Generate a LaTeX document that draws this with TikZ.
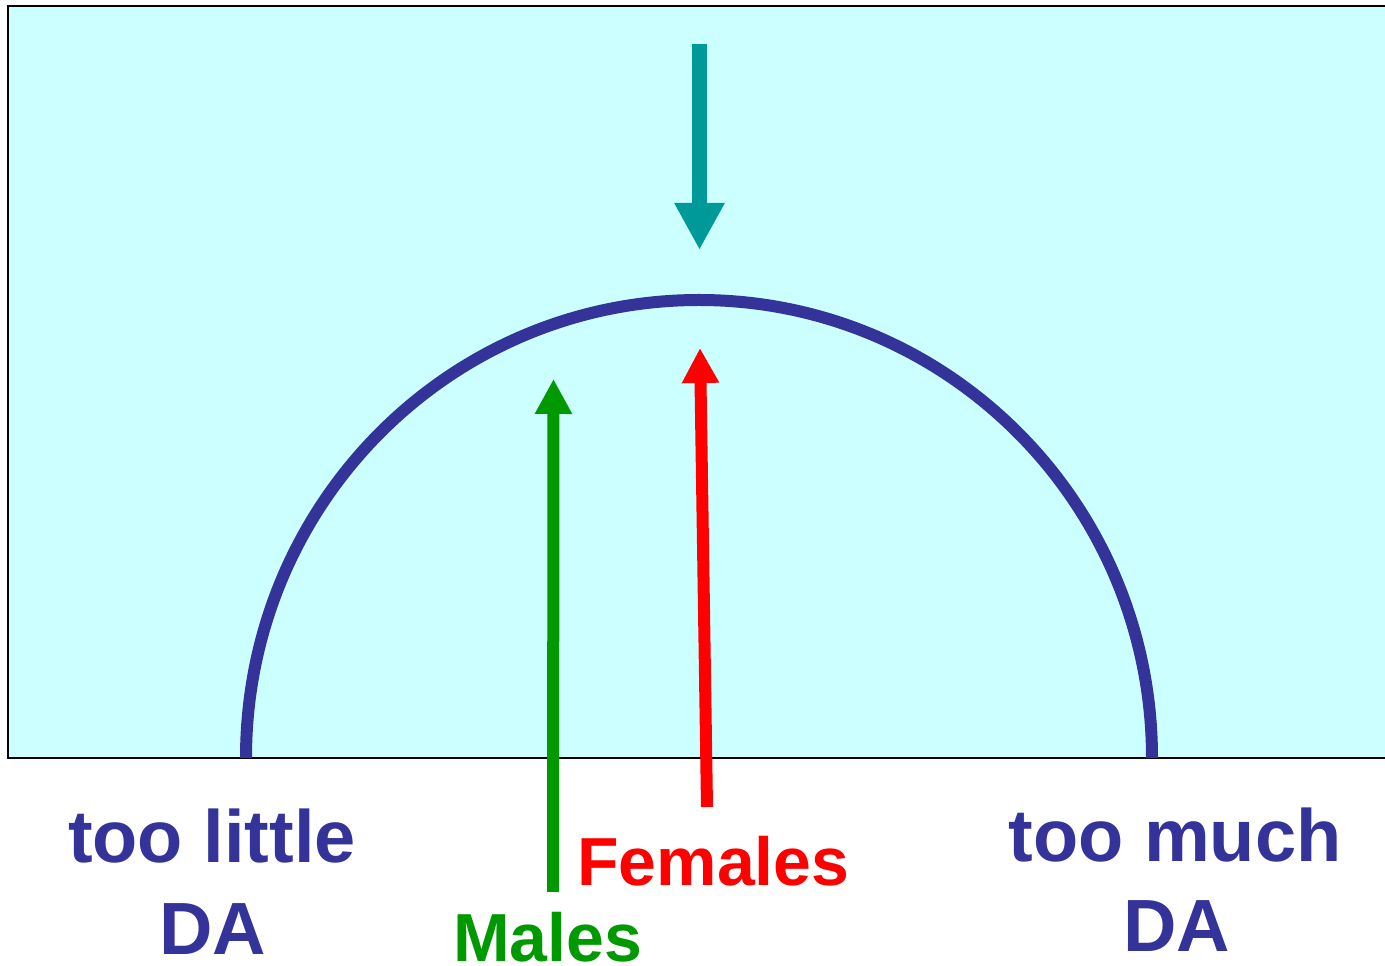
\documentclass[tikz,border=0pt]{standalone}
\usepackage{fontspec}
\setmainfont{Liberation Sans}
\usetikzlibrary{arrows.meta}
\definecolor{bgcyan}{HTML}{CCFFFF}
\definecolor{tealarrow}{HTML}{009999}
\definecolor{greenarrow}{HTML}{009900}
\definecolor{bluedark}{HTML}{333399}
\definecolor{redarrow}{HTML}{FF0000}
\tikzset{
  bigtext/.style={inner sep=0pt, anchor=base, text=bluedark, font=\bfseries\fontsize{74}{90}\selectfont},
  sextext/.style={inner sep=0pt, anchor=base west, font=\bfseries\fontsize{68}{80}\selectfont},
  fatarrow/.style={line width=15pt, -{Triangle[length=47pt,width=47pt]}},
  thinarrow/.style={line width=12pt, -{Triangle[length=35pt,width=35pt]}}
}
\begin{document}
\begin{tikzpicture}[x=1pt,y=1pt]
\useasboundingbox (0,0) rectangle (1385,966);
% panel
\draw[fill=bgcyan, line width=2pt] (8,208) rectangle (1400,960);
% curve
\draw[bluedark, line width=12pt] (246,208) arc[start angle=180, end angle=0, x radius=453pt, y radius=458pt];
% coordinates
\coordinate (ttop) at (699.5,922);
\coordinate (ttip) at (699.5,716);
\coordinate (gbot) at (553,74);
\coordinate (gtip) at (553.5,587);
\coordinate (rbot) at (707,159);
\coordinate (rtip) at (700,618);
\draw[fatarrow, tealarrow] (ttop) -- (ttip);
\draw[thinarrow, greenarrow] (gbot) -- (gtip);
\draw[thinarrow, redarrow] (rbot) -- (rtip);
% labels
\node[bigtext] (little) at (212,103) {too little};
\node[bigtext] (da1) at (213,11) {DA};
\node[bigtext] (much) at (1175,104) {too much};
\node[bigtext] (da2) at (1177,14) {DA};
\node[sextext, text=redarrow] (fem) at (577,80) {Females};
\node[sextext, text=greenarrow] (mal) at (453,4) {Males};
\end{tikzpicture}
\end{document}
